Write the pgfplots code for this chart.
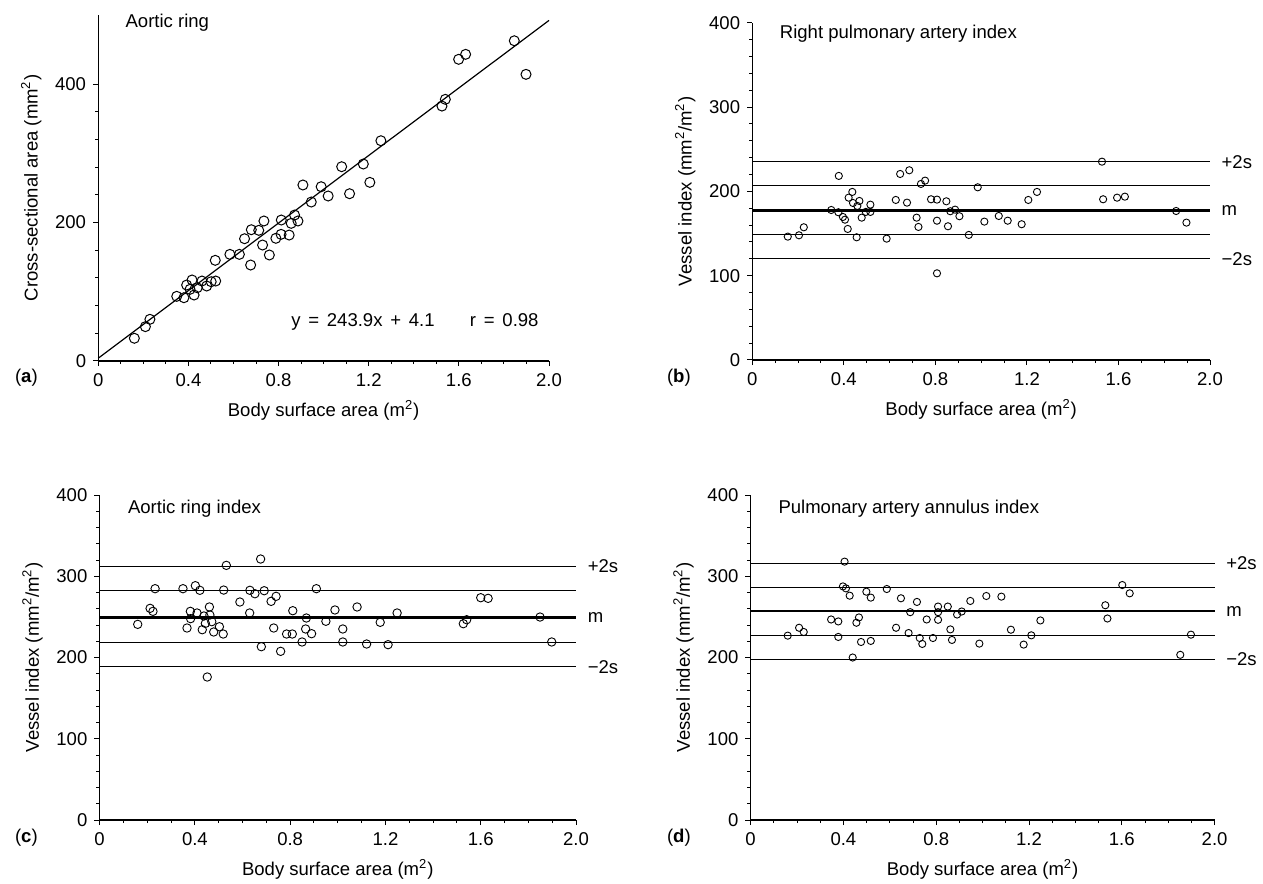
\documentclass[border=0pt]{standalone}
\usepackage{pgfplots}
\pgfplotsset{compat=1.18}
\usepackage{fontspec}
\setmainfont{Liberation Sans}
\pgfplotstableread{
x y
0.160 32.8
0.209 49.6
0.229 60.2
0.348 93.4
0.380 91.4
0.392 109.7
0.416 117
0.407 103.5
0.425 95.3
0.439 105.8
0.460 115.5
0.481 108.3
0.501 114.5
0.521 115.5
0.519 145.4
0.584 154
0.626 154
0.676 138.6
0.649 176.6
0.679 189.6
0.712 188.7
0.735 202.2
0.729 167.5
0.759 153.1
0.788 177.2
0.811 182.9
0.812 203.6
0.847 181.9
0.856 198.8
0.871 210.8
0.886 202.2
0.908 254.2
0.945 229.6
0.989 251.7
1.020 238.3
1.080 280.6
1.115 241.6
1.176 284.5
1.205 258
1.254 318.1
1.525 368.2
1.540 377.9
1.599 435.7
1.630 442.9
1.846 462.5
1.898 414
}\dataA
\pgfplotstableread{
x y
0.155 146.3
0.204 147.9
0.225 157.4
0.378 218.3
0.345 177.9
0.376 175.2
0.396 169.6
0.405 166.4
0.417 155.4
0.437 199.3
0.421 192.5
0.440 186.2
0.459 182.7
0.468 188.6
0.456 145.5
0.478 168.8
0.496 175.6
0.516 184.2
0.516 175.6
0.587 143.9
0.627 189.8
0.646 220.6
0.676 186.6
0.686 225
0.718 168.8
0.726 157.8
0.737 208.8
0.755 212.7
0.781 190.6
0.807 190.2
0.807 165.2
0.807 102.8
0.848 188.2
0.855 158.6
0.865 176.4
0.886 178.3
0.905 170.5
0.946 148.3
0.985 204.8
1.014 164.1
1.077 170.8
1.116 165.2
1.177 161
1.206 189.8
1.244 199.3
1.528 235.2
1.533 190.6
1.594 192.5
1.628 193.7
1.852 176.7
1.897 162.9
}\dataB
\pgfplotstableread{
x y
0.160 240.8
0.212 260.5
0.224 256.8
0.233 284.7
0.350 284.7
0.367 236.3
0.381 256.8
0.382 247.8
0.402 288.4
0.409 254.8
0.421 282.7
0.431 234.2
0.438 251.1
0.444 242
0.461 262.2
0.463 252.3
0.471 244.1
0.479 231.4
0.503 237.9
0.519 228.9
0.452 176
0.521 283
0.532 313.4
0.589 268.3
0.630 254.8
0.631 282.7
0.652 278.5
0.676 321.2
0.679 213.3
0.691 282.2
0.720 269.1
0.731 236.3
0.741 275.3
0.760 207.6
0.785 228.9
0.809 228.9
0.811 257.6
0.850 219.1
0.865 235.1
0.868 248.6
0.890 229.3
0.910 284.7
0.950 244.6
0.988 258.5
1.021 235.1
1.021 219.1
1.081 262.2
1.121 216.6
1.178 243.3
1.211 215.8
1.249 254.8
1.527 241.6
1.541 246.5
1.600 273.6
1.631 272.8
1.849 249.8
1.898 219.1
}\dataC
\pgfplotstableread{
x y
0.160 226.9
0.209 236.6
0.229 231.4
0.347 246.8
0.378 244.4
0.378 225.3
0.398 287.5
0.405 318.0
0.411 285.1
0.427 276.1
0.440 200.0
0.456 242.8
0.467 249.3
0.476 219.1
0.499 281.0
0.518 273.7
0.518 220.4
0.587 284.3
0.627 236.6
0.648 272.9
0.681 230.1
0.717 268.4
0.688 255.8
0.729 224.0
0.740 216.7
0.759 246.8
0.786 224.0
0.808 262.7
0.808 255.8
0.808 246.4
0.850 262.7
0.861 234.6
0.868 221.6
0.890 252.9
0.910 256.6
0.947 269.6
0.986 217.1
1.016 275.7
1.081 274.9
1.122 234.2
1.177 215.9
1.210 227.3
1.249 245.6
1.529 264.3
1.538 248.0
1.602 289.2
1.634 279.0
1.852 203.3
1.898 228.1
}\dataD
\begin{document}
\begin{tikzpicture}
\path[use as bounding box] (0bp,0bp) rectangle (631.5bp,442bp);
\pgfplotsset{
  every axis/.append style={
    scale only axis, anchor=south west, clip=false,
    axis lines=left, axis line style={-, line width=0.6bp},
    tick align=outside, tick style={line width=0.5bp, black},
    major tick length=2.6bp, minor tick length=1.6bp,
    tick label style={font=\fontsize{9.3}{11}\selectfont},
    label style={font=\fontsize{9.3}{11}\selectfont},
    xmin=0, xmax=2, xtick={0,0.4,0.8,1.2,1.6,2},
    xticklabels={0,0.4,0.8,1.2,1.6,2.0}, minor x tick num=3,
    xlabel={Body surface area (m\textsuperscript{2})},
  },
  vi/.style={ymin=0, ymax=400, ytick={0,100,200,300,400},
    yticklabels={0,100,200,300,400}, minor y tick num=4,
    ylabel={Vessel index (mm\textsuperscript{2}/m\textsuperscript{2})}},
}
\def\op#1{\hspace{0.42em}#1\hspace{0.42em}}
% (a)
\begin{axis}[at={(49.15bp,261.5bp)}, width=225.35bp, height=173.1bp,
  ymin=0, ymax=500, ytick={0,200,400}, yticklabels={0,200,400}, minor y tick num=4,
  ylabel={Cross-sectional area (mm\textsuperscript{2})}]
\addplot[black, line width=0.6bp] coordinates {(0,4.1) (2,491.9)};
\addplot[only marks, mark=o, mark size=2.5bp, mark options={line width=0.5bp, fill=white}] table {\dataA};
\node[anchor=west, font=\fontsize{9.3}{11}\selectfont] at (axis cs:0.09,489) {Aortic ring};
\node[anchor=west, font=\fontsize{9.3}{11}\selectfont] at (axis cs:0.825,57) {y\op{=}243.9x\op{+}4.1\hspace{1.9em}r\op{=}0.98};
\end{axis}
% (b)
\begin{axis}[vi, at={(376.15bp,262bp)}, width=228.85bp, height=168.65bp]
\foreach \v/\w in {235/0.5bp,206.6/0.5bp,177/1.3bp,148.5/0.5bp,120/0.5bp}{
  \edef\tmp{\noexpand\addplot[black, line width=\w] coordinates {(0,\v) (2,\v)};}\tmp }
\addplot[only marks, mark=o, mark size=1.8bp, mark options={line width=0.45bp, fill=white}] table {\dataB};
\node[anchor=west, font=\fontsize{9.3}{11}\selectfont] at (axis cs:0.09,387) {Right pulmonary artery index};
\node[anchor=west, font=\fontsize{9.3}{11}\selectfont] at (axis cs:2.02,235) {+2s};
\node[anchor=west, font=\fontsize{9.3}{11}\selectfont] at (axis cs:2.02,177) {m};
\node[anchor=west, font=\fontsize{9.3}{11}\selectfont] at (axis cs:2.02,120) {−2s};
\end{axis}
% (c)
\begin{axis}[vi, at={(49.8bp,32bp)}, width=238.2bp, height=162.5bp]
\foreach \v/\w in {312.6/0.5bp,282.2/0.5bp,249/1.3bp,219/0.5bp,188.7/0.5bp}{
  \edef\tmp{\noexpand\addplot[black, line width=\w] coordinates {(0,\v) (2,\v)};}\tmp }
\addplot[only marks, mark=o, mark size=2.1bp, mark options={line width=0.45bp, fill=white}] table {\dataC};
\node[anchor=west, font=\fontsize{9.3}{11}\selectfont] at (axis cs:0.09,383) {Aortic ring index};
\node[anchor=west, font=\fontsize{9.3}{11}\selectfont] at (axis cs:2.02,312.6) {+2s};
\node[anchor=west, font=\fontsize{9.3}{11}\selectfont] at (axis cs:2.02,249) {m};
\node[anchor=west, font=\fontsize{9.3}{11}\selectfont] at (axis cs:2.02,188.7) {−2s};
\end{axis}
% (d)
\begin{axis}[vi, at={(375.3bp,32bp)}, width=232bp, height=162.5bp]
\foreach \v/\w in {316/0.5bp,286.5/0.5bp,257/1.3bp,227.5/0.5bp,198/0.5bp}{
  \edef\tmp{\noexpand\addplot[black, line width=\w] coordinates {(0,\v) (2,\v)};}\tmp }
\addplot[only marks, mark=o, mark size=1.8bp, mark options={line width=0.45bp, fill=white}] table {\dataD};
\node[anchor=west, font=\fontsize{9.3}{11}\selectfont] at (axis cs:0.09,383) {Pulmonary artery annulus index};
\node[anchor=west, font=\fontsize{9.3}{11}\selectfont] at (axis cs:2.02,316) {+2s};
\node[anchor=west, font=\fontsize{9.3}{11}\selectfont] at (axis cs:2.02,257) {m};
\node[anchor=west, font=\fontsize{9.3}{11}\selectfont] at (axis cs:2.02,198) {−2s};
\end{axis}
\node[anchor=west, font=\fontsize{9.3}{11}\selectfont] at (4bp,253bp) {(\textbf{a})};
\node[anchor=west, font=\fontsize{9.3}{11}\selectfont] at (330bp,253bp) {(\textbf{b})};
\node[anchor=west, font=\fontsize{9.3}{11}\selectfont] at (4bp,23bp) {(\textbf{c})};
\node[anchor=west, font=\fontsize{9.3}{11}\selectfont] at (330bp,23bp) {(\textbf{d})};
\end{tikzpicture}
\end{document}
